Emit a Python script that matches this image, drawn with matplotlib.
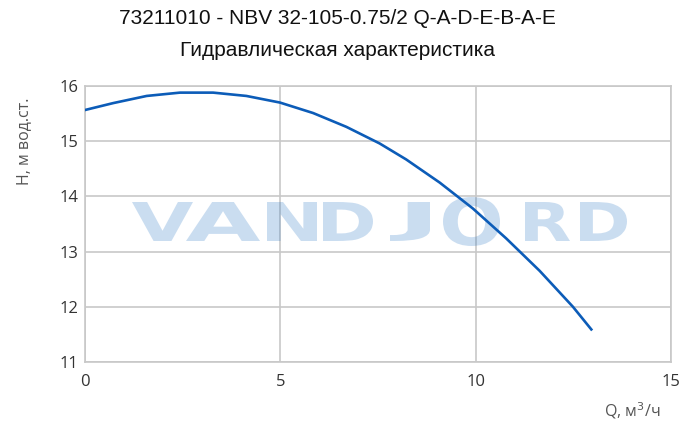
import matplotlib
matplotlib.use("Agg")
import matplotlib.pyplot as plt
from matplotlib.textpath import TextPath
from matplotlib.patches import PathPatch
from matplotlib.font_manager import FontProperties
from matplotlib.transforms import Affine2D

# pump curve
q = [0, 0.72, 1.58, 2.43, 3.28, 4.13, 4.99, 5.84, 6.69, 7.54, 8.22, 9.08,
     9.93, 10.78, 11.64, 12.49, 12.96]
h = [15.565, 15.69, 15.82, 15.88, 15.88, 15.82, 15.70, 15.51, 15.26, 14.96,
     14.67, 14.25, 13.78, 13.24, 12.65, 12.00, 11.59]

x_ticks = [0, 5, 10, 15]
y_ticks = [11, 12, 13, 14, 15, 16]

title1 = "73211010 - NBV 32-105-0.75/2 Q-A-D-E-B-A-E"
title2 = "Гидравлическая характеристика"
xlabel = "Q, м$^3$/ч"
ylabel = "H, м вод.ст."
mark = "VANDJORD"

grid_c = "#c8c8c8"
line_c = "#0c5cb8"
txt_c = "#333333"

W, H = 696, 425
fig = plt.figure(figsize=(W / 100, H / 100), dpi=100)
ax = fig.add_axes([85 / W, 1 - 362 / H, 586 / W, 276 / H])

ax.set_xlim(0, 15)
ax.set_ylim(11, 16)
ax.set_xticks(x_ticks)
ax.set_yticks(y_ticks)
ax.grid(True, color=grid_c, lw=1.2)
ax.set_axisbelow(True)
for s in ax.spines.values():
    s.set_color(grid_c)
    s.set_linewidth(1.2)
ax.tick_params(length=0, labelsize=12, labelcolor=txt_c)
ax.tick_params(axis="x", pad=9)
ax.tick_params(axis="y", pad=5)
for lab in ax.get_xticklabels() + ax.get_yticklabels():
    lab.set_fontfamily("Open Sans")

# watermark, each letter stretched into its box (pixel coords, y from top)
boxes = [(132, 193), (186, 260), (267, 317), (323, 373), (390, 430),
         (443, 500), (525, 570), (580, 627)]
top, bottom = 202, 241
fp = FontProperties(family="DejaVu Sans", weight="bold")
for ch, (x0, x1) in zip(mark, boxes):
    t0, b0 = (top - 5, bottom + 5) if ch == "O" else (top, bottom)
    tp = TextPath((0, 0), ch, size=1, prop=fp)
    ext = tp.get_extents()
    tr = (Affine2D().translate(-ext.x0, -ext.y0)
          .scale((x1 - x0) / ext.width, (b0 - t0) / ext.height)
          .translate(x0, H - b0))
    ax.add_patch(PathPatch(tp, transform=tr, fc="#2373c3", ec="none",
                           alpha=0.24, zorder=1.5))

ax.plot(q, h, color=line_c, lw=1.9, zorder=3)

fig.text(337 / W, 1 - 19 / H, title1, ha="center", va="center",
         fontsize=15, family="Liberation Sans", color="#111111")
fig.text(337 / W, 1 - 51 / H, title2, ha="center", va="center",
         fontsize=15, family="Liberation Sans", color="#111111")

fig.text(24 / W, 1 - 141 / H, ylabel, ha="center", va="center",
         rotation=90, fontsize=11.5, family="Open Sans", color="#555555")
fig.text(660 / W, 1 - 411 / H, xlabel, ha="right", va="center",
         fontsize=11.5, family="Open Sans", color="#555555")

fig.savefig("out.png", dpi=100)
